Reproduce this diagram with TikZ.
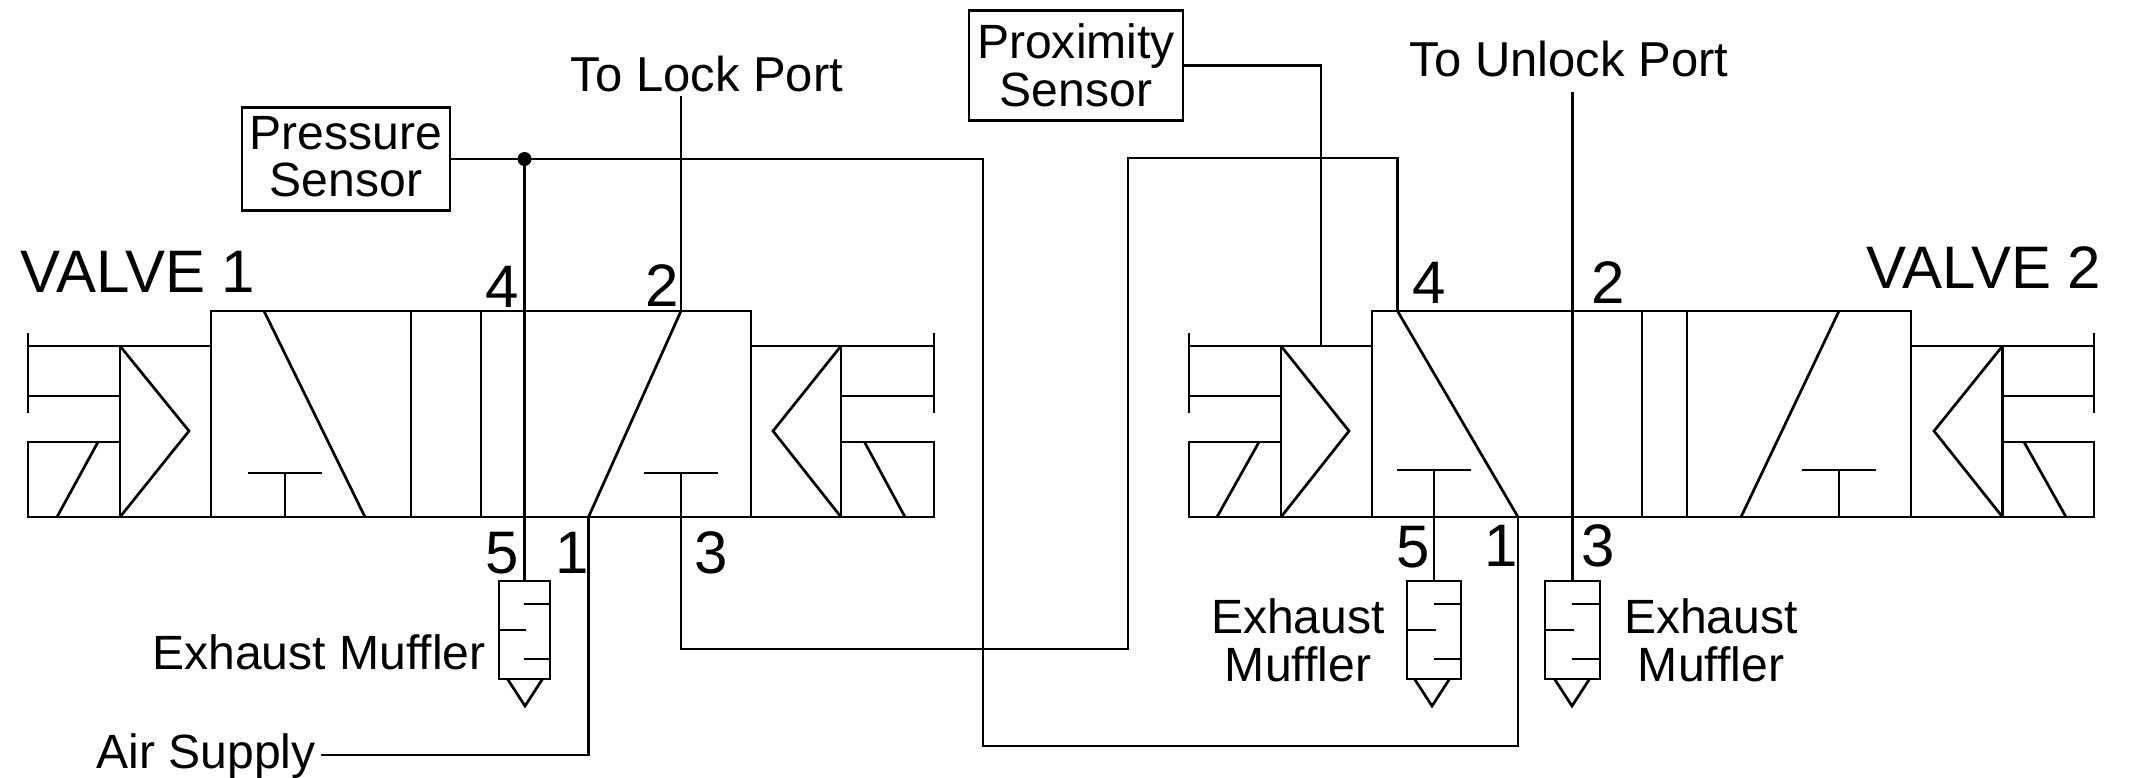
\documentclass[tikz,border=0pt]{standalone}
\usepackage{fontspec}
\setmainfont{Liberation Sans}
\usetikzlibrary{positioning}

\begin{document}
\begin{tikzpicture}[
        x=1pt, y=-1pt,
        every path/.style={line width=2.7pt, line join=miter},
        txtnode/.style={inner sep=0pt, align=center, font=\fontsize{48.1}{47.8}\selectfont},
        portnum/.style={inner sep=0pt, font=\fontsize{60}{60}\selectfont},
        sensorbox/.style={draw, txtnode, minimum width=#1}
    ]
    \useasboundingbox (0,-1) rectangle (2130,777);

    % Valve bodies
    \draw (211,310) rectangle (751,516);
    \draw (1372,310) rectangle (1911,516);
    \foreach \xdiv in {411,481,1642,1687} {
        \draw (\xdiv,310) -- (\xdiv,516);
    }

    % Solenoids: line end, mid line, tip, body, coil slash
    \foreach \xend/\xmid/\xtip/\xbody/\xlow/\xhigh in {28/120/189/211/57/98, 934/841/773/751/905/864.5, 1189/1281/1349/1372/1217/1259, 2094/2002.5/1934/1911/2066/2024} {
        \draw (\xend,332) -- (\xend,412);
        \draw (\xend,345) -- (\xbody,345);
        \draw (\xend,395) -- (\xmid,395);
        \draw (\xmid,441) -- (\xend,441) -- (\xend,516) -- (\xbody,516);
        \draw (\xmid,345) -- (\xmid,516);
        \draw (\xmid,345) -- (\xtip,430) -- (\xmid,516);
        \draw (\xlow,516) -- (\xhigh,441);
    }

    % Blocked ports
    \foreach \xleft/\xright/\xstem/\ytee in {248/322/285/472, 644/718/681/472, 1397/1471/1434/469, 1802/1876/1839/469} {
        \draw (\xleft,\ytee) -- (\xright,\ytee);
        \draw (\xstem,\ytee) -- (\xstem,516);
    }

    % Exhaust mufflers
    \foreach \xleft/\xright/\xmid/\xtip in {499/550/524/525, 1407/1461/1434/1432, 1545/1600/1572/1572} {
        \draw (\xleft,580) rectangle (\xright,678);
        \draw (\xmid,603) -- (\xright,603);
        \draw (\xleft,629) -- (\xmid+2,629);
        \draw (\xmid,658) -- (\xright,658);
        \draw (\xtip-17.5,678) -- (\xtip,705) -- (\xtip+17.5,678);
    }

    % Ports
    \coordinate (A4) at (524.5,580);
    \coordinate (A2) at (681,310);
    \coordinate (A3) at (681,516);
    \coordinate (A1) at (588.5,516);
    \coordinate (B4) at (1397.5,310);
    \coordinate (B1) at (1518,516);
    \coordinate (B5) at (1434,516);
    \coordinate (B3) at (1572.5,580);
    \coordinate (M5) at (1434,580);
    \coordinate (Coil) at (1321,345);

    % Sensors and labels
    \node[sensorbox=208pt, minimum height=103pt, text depth=5pt] (Pressure) at (346,158) {Pressure \\ Sensor};
    \node[sensorbox=214pt, minimum height=110pt] (Proximity) at (1076,64.5) {Proximity \\ Sensor};
    \node[txtnode, font=\fontsize{49}{48}\selectfont] (LockLbl) at (707,73) {To Lock Port};
    \node[txtnode, font=\fontsize{49}{48}\selectfont] (UnlockLbl) at (1569,58) {To Unlock Port};
    \node[txtnode, anchor=east] (AirLbl) at (317,755) {Air Supply};
    \node[txtnode] (Muff1) at (319,651) {Exhaust Muffler};
    \node[txtnode] (Muff2) at (1298,639) {Exhaust \\ Muffler};
    \node[txtnode] (Muff3) at (1711,639) {Exhaust \\ Muffler};
    \node[portnum] (TitleA) at (138,271) {VALVE 1};
    \node[portnum] (TitleB) at (1984,267) {VALVE 2};
    \foreach \xnum/\ynum/\txt in {502.5/286/4, 662/285/2, 502.5/552/5, 572.5/552/1, 711/552/3, 1429/282/4, 1608/282/2, 1413/546/5, 1501/545/1, 1598.5/545/3} {
        \node[portnum] at (\xnum,\ynum) {\txt};
    }

    % Flow paths inside the valves
    \draw (264,310) -- (365,516);
    \draw (A2) -- (A1);
    \draw (B4) -- (B1);
    \draw (1839,310) -- (1741,516);

    % Wires
    \coordinate (Tee) at (524.5,158);
    \coordinate (LockEnd) at (681,95);
    \coordinate (UnlockEnd) at (1572.5,91);
    \coordinate (AirEnd) at (321,754);
    \coordinate (BendA) at (983,745);
    \coordinate (BendB) at (1128,648);
    \coordinate (BendC) at (1397.5,157);
    \draw (Pressure.east) -- (Tee) -| (BendA) -| (B1);
    \draw (Tee) -- (A4);
    \fill (Tee) circle (7pt);
    \draw (LockEnd) -- (A2);
    \draw (A3) |- (BendB) |- (BendC) -- (B4);
    \draw (Proximity.east) -| (Coil);
    \draw (UnlockEnd) -- (B3);
    \draw (AirEnd) -| (A1);
    \draw (B5) -- (M5);
\end{tikzpicture}
\end{document}
